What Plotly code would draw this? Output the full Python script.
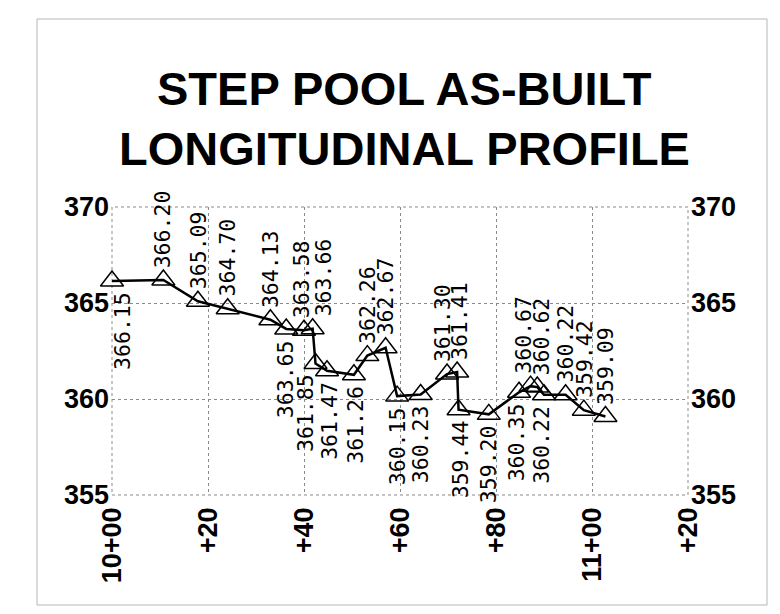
import plotly.graph_objects as go

# station (ft) and surveyed elevation (ft)
stations = [1000.0, 1010.7, 1017.9, 1024.1, 1033.0, 1036.3, 1040.0, 1041.8, 1042.4,
            1044.8, 1050.4, 1053.2, 1057.0, 1059.4, 1064.3, 1069.8, 1071.9, 1072.2,
            1078.5, 1084.8, 1087.2, 1088.6, 1090.0, 1094.5, 1098.3, 1102.8]
elevations = [366.15, 366.20, 365.09, 364.70, 364.13, 363.65, 363.58, 363.66, 361.85,
              361.47, 361.26, 362.26, 362.67, 360.15, 360.23, 361.30, 361.41, 359.44,
              359.20, 360.35, 360.67, 360.62, 360.22, 360.22, 359.42, 359.09]

x_tickvals = [1000, 1020, 1040, 1060, 1080, 1100, 1120]
x_ticktext = ["10+00", "+20", "+40", "+60", "+80", "11+00", "+20"]
y_tickvals = [355, 360, 365, 370]

# where each value label sits: "a" above the point, "b" below, plus a small sideways nudge in px
label_side = ["b", "a", "a", "a", "a", "b", "a", "a", "b", "b", "b", "a", "a",
              "b", "b", "a", "a", "b", "b", "b", "a", "a", "b", "a", "a", "a"]
label_dx = [11, 0, 0, 0, 0, 0, -3, 11, -10, 3, 2, 0, 0,
            0, 0, -5, 3, 2, 0, -3, -7, 4, -2, 0, 0, 0]

fig = go.Figure()

fig.add_trace(
    go.Scatter(
        x=stations,
        y=elevations,
        mode="lines+markers",
        line=dict(color="black", width=2.5),
        marker=dict(symbol="triangle-up-open", size=20, color="black",
                    line=dict(width=1.5, color="black")),
        cliponaxis=False,
        showlegend=False,
        hoverinfo="x+y",
    )
)

# invisible copy so the right-hand axis is drawn
fig.add_trace(
    go.Scatter(x=stations, y=elevations, yaxis="y2", mode="markers",
               marker=dict(opacity=0), showlegend=False, hoverinfo="skip")
)

for st, el, side, dx in zip(stations, elevations, label_side, label_dx):
    fig.add_annotation(
        x=st, y=el, text=f"{el:.2f}", showarrow=False, textangle=-90,
        xanchor="center",
        yanchor="bottom" if side == "a" else "top",
        xshift=dx, yshift=10 if side == "a" else -9,
        font=dict(family="DejaVu Sans Mono", size=21.5, color="black"),
    )

title_font = dict(family="Liberation Sans", size=47, color="black", weight="bold")
fig.add_annotation(
    text="STEP POOL AS-BUILT", xref="paper", yref="paper", x=0.507, y=1.0,
    yshift=119, showarrow=False, xanchor="center", yanchor="middle", font=title_font,
)
fig.add_annotation(
    text="LONGITUDINAL PROFILE", xref="paper", yref="paper", x=0.507, y=1.0,
    yshift=59, showarrow=False, xanchor="center", yanchor="middle", font=title_font,
)

# dotted frame round the plot area
fig.add_shape(type="rect", xref="x domain", yref="y domain", x0=0, x1=1, y0=0, y1=1,
              line=dict(color="#8a8a8a", width=1, dash="dot"), layer="below")
# thin border round the whole picture
fig.add_shape(type="rect", xref="paper", yref="paper",
              x0=(29 - 104) / 576, x1=(759 - 104) / 576,
              y0=(487 - 597) / 288, y1=(487 - 11) / 288,
              line=dict(color="#b5b5b5", width=1))

tick_font = dict(family="Liberation Sans", size=27, color="black", weight="bold")

fig.update_layout(
    width=764,
    height=598,
    margin=dict(l=104, r=84, t=199, b=111),
    paper_bgcolor="white",
    plot_bgcolor="white",
    xaxis=dict(
        range=[1000, 1120],
        tickvals=x_tickvals,
        ticktext=x_ticktext,
        tickangle=-90,
        tickfont=tick_font,
        showgrid=True,
        gridcolor="#8a8a8a",
        griddash="dot",
        gridwidth=1,
        zeroline=False,
        showline=False,
        ticks="",
        ticklabelstandoff=6,
    ),
    yaxis=dict(
        range=[355, 370],
        tickvals=y_tickvals,
        tickfont=tick_font,
        showgrid=True,
        gridcolor="#8a8a8a",
        griddash="dot",
        gridwidth=1,
        zeroline=False,
        showline=False,
        ticks="",
        ticklabelstandoff=2,
    ),
    yaxis2=dict(
        range=[355, 370],
        tickvals=y_tickvals,
        tickfont=tick_font,
        overlaying="y",
        side="right",
        showgrid=False,
        zeroline=False,
        showline=False,
        ticks="",
        ticklabelstandoff=2,
    ),
)

fig.write_html("out.html")
